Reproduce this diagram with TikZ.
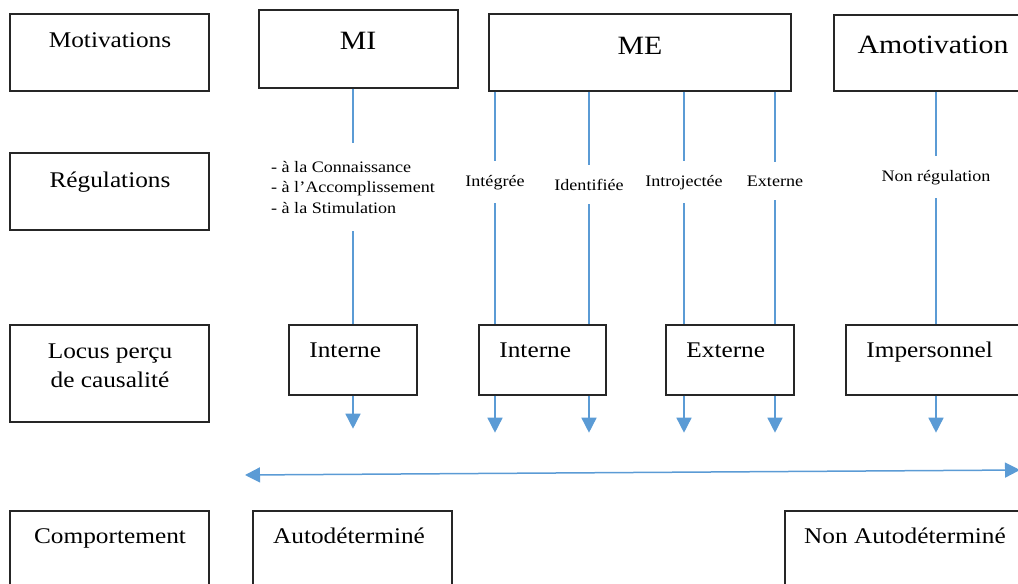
\documentclass[tikz,border=0pt]{standalone}
\usepackage{fontspec}
\setmainfont[FakeStretch=1.13]{Liberation Serif}
\usetikzlibrary{arrows.meta,positioning}
\definecolor{linkblue}{HTML}{5B9BD5}
\definecolor{boxgray}{HTML}{262626}

\begin{document}
\begin{tikzpicture}[x=0.5pt,y=-0.5pt,>={Triangle[length=7.5pt,width=7.5pt]},
                    box/.style={draw=boxgray,line width=0.7pt,fill=white,inner sep=0pt},
                    txt/.style={font=\fontsize{11.2}{14.5}\selectfont,inner sep=0pt,anchor=base},
                    big/.style={font=\fontsize{13.2}{15}\selectfont,inner sep=0pt,anchor=base},
                    reg/.style={font=\fontsize{8}{10.25}\selectfont,inner sep=0pt,outer ysep=7pt,anchor=base},
                    link/.style={draw=linkblue,line width=0.75pt}]
  \clip (0,0) rectangle (1018,584);

  % row headers
  \node[box,minimum width=99.5pt,minimum height=38.5pt] (motiv) at (109.5,52.5) {};
  \node[box,minimum width=99.5pt,minimum height=38.5pt] (regul) at (109.5,191.5) {};
  \node[box,minimum width=99.5pt,minimum height=48.5pt] (locus) at (109.5,373.5) {};
  \node[box,minimum width=99.5pt,minimum height=54.5pt] (comport) at (109.5,565.5) {};
  \node[txt] at (110,47) {Motivations};
  \node[txt] at (110,187) {Régulations};
  \node[txt,align=center] at (110,387) {Locus perçu\\de causalité};
  \node[txt] at (110,543) {Comportement};

  % motivations
  \node[box,minimum width=99.5pt,minimum height=39pt] (mi) at (358.5,49) {};
  \node[box,minimum width=151pt,minimum height=38.5pt] (me) at (640,52.5) {};
  \node[box,minimum width=99pt,minimum height=38pt] (amot) at (933,53) {};
  \node[big] at (358,49) {MI};
  \node[big] at (640,54) {ME};
  \node[big] at (933,53) {Amotivation};

  % regulations
  \node[reg,align=left,outer ysep=9pt] (regMI) at (353,213) {- à la Connaissance\\- à l’Accomplissement\\- à la Stimulation};
  \node[reg] (regInteg) at (495,186) {Intégrée};
  \node[reg] (regIdent) at (589,190) {Identifiée};
  \node[reg] (regIntro) at (684,186) {Introjectée};
  \node[reg] (regExt) at (775,186) {Externe};
  \node[reg] (regNon) at (936,181) {Non régulation};

  % locus
  \node[box,minimum width=64pt,minimum height=35pt] (intMI) at (353,360) {};
  \node[box,minimum width=63.5pt,minimum height=35pt] (intME) at (542.5,360) {};
  \node[box,minimum width=64pt,minimum height=35pt] (ext) at (730,360) {};
  \node[box,minimum width=89.5pt,minimum height=35pt] (imp) at (935.5,360) {};
  \node[txt,anchor=base west] at (309,357) {Interne};
  \node[txt,anchor=base west] at (499,357) {Interne};
  \node[txt,anchor=base west] at (686,357) {Externe};
  \node[txt,anchor=base west] at (866,357) {Impersonnel};

  % comportement
  \node[box,minimum width=99.5pt,minimum height=54.5pt] (auto) at (352.5,565.5) {};
  \node[box,minimum width=120pt,minimum height=54.5pt] (nonauto) at (905,565.5) {};
  \node[txt] at (349,543) {Autodéterminé};
  \node[txt] at (905,543) {Non Autodéterminé};

  % links
  \draw[link] (mi.south -| regMI) -- (regMI.north) (regMI.south) -- (intMI.north);
  \draw[link,->] (intMI.south) -- +(0,33);
  \draw[link] (me.south -| regInteg) -- (regInteg.north) (regInteg.south) -- (intME.north -| regInteg);
  \draw[link,->] (intME.south -| regInteg) -- +(0,37);
  \draw[link] (me.south -| regIdent) -- (regIdent.north) (regIdent.south) -- (intME.north -| regIdent);
  \draw[link,->] (intME.south -| regIdent) -- +(0,37);
  \draw[link] (me.south -| regIntro) -- (regIntro.north) (regIntro.south) -- (ext.north -| regIntro);
  \draw[link,->] (ext.south -| regIntro) -- +(0,37);
  \draw[link] (me.south -| regExt) -- (regExt.north) (regExt.south) -- (ext.north -| regExt);
  \draw[link,->] (ext.south -| regExt) -- +(0,37);
  \draw[link] (amot.south -| regNon) -- (regNon.north) (regNon.south) -- (imp.north -| regNon);
  \draw[link,->] (imp.south -| regNon) -- +(0,37);

  \coordinate (leftEnd) at (245,475);
  \coordinate (rightEnd) at (1020,470);
  \draw[link,<->] (leftEnd) -- (rightEnd);
\end{tikzpicture}
\end{document}
